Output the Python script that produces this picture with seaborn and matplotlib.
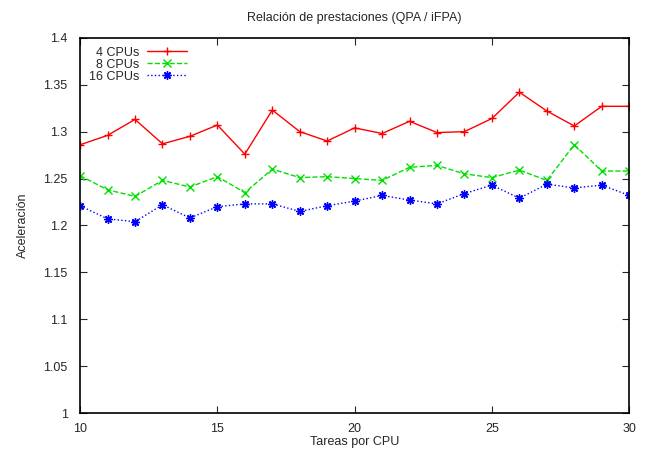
import matplotlib
matplotlib.use("Agg")
import matplotlib.pyplot as plt
from matplotlib.ticker import FuncFormatter
import seaborn as sns
import pandas as pd

tareas = list(range(10, 31))
cpu4 = [1.286, 1.296, 1.313, 1.287, 1.295, 1.307, 1.276, 1.323, 1.300, 1.290, 1.304,
        1.298, 1.311, 1.299, 1.300, 1.314, 1.342, 1.322, 1.306, 1.327, 1.327]
cpu8 = [1.253, 1.238, 1.231, 1.248, 1.241, 1.252, 1.235, 1.260, 1.251, 1.252, 1.250,
        1.248, 1.262, 1.264, 1.255, 1.251, 1.259, 1.248, 1.286, 1.258, 1.258]
cpu16 = [1.221, 1.207, 1.204, 1.222, 1.208, 1.220, 1.223, 1.223, 1.215, 1.221, 1.226,
         1.232, 1.227, 1.223, 1.234, 1.243, 1.229, 1.244, 1.240, 1.243, 1.232]
etiquetas = ["4 CPUs", "8 CPUs", "16 CPUs"]
colores = ["#ff0000", "#00e000", "#0000ff"]

sns.set_style("ticks")
plt.rcParams["font.family"] = ["Liberation Sans", "DejaVu Sans"]
plt.rcParams["xtick.direction"] = "in"
plt.rcParams["ytick.direction"] = "in"

fig = plt.figure(figsize=(6.46, 4.5), dpi=100)
ax = fig.add_axes([0.124, 0.082, 0.850, 0.834])

series = [cpu4, cpu8, cpu16]
markers = ["+", "x", (8, 2, 0)]
estilos = ["-", "--", ":"]
for vals, lab, col, mk, ls in zip(series, etiquetas, colores, markers, estilos):
    df = pd.DataFrame({"Tareas": tareas, "Acel": vals})
    sns.lineplot(data=df, x="Tareas", y="Acel", ax=ax, color=col, marker=mk,
                 linestyle=ls, linewidth=1, markersize=6, markeredgewidth=1,
                 markeredgecolor=col, label=lab)

ax.set_xlim(10, 30)
ax.set_ylim(1, 1.4)
ax.set_xticks(range(10, 31, 5))
ax.set_yticks([1 + 0.05 * i for i in range(9)])
ax.yaxis.set_major_formatter(FuncFormatter(lambda v, p: "%g" % round(v, 2)))
ax.tick_params(top=True, right=True, labelsize=9, length=5, width=0.8)
ax.tick_params(axis="x", pad=7)
ax.tick_params(axis="y", pad=9)
for s in ax.spines.values():
    s.set_linewidth(1.2)
    s.set_color("black")

ax.set_xlabel("Tareas por CPU", fontsize=9, labelpad=1)
ax.set_ylabel("Aceleración", fontsize=9, labelpad=10)
ax.set_title("Relación de prestaciones (QPA / iFPA)", fontsize=9, pad=12)

ax.legend(loc="upper left", bbox_to_anchor=(0.0, 1.0), frameon=False,
          markerfirst=False, fontsize=9, handlelength=3.2, labelspacing=0.0,
          borderaxespad=0.3, handletextpad=0.6)

fig.savefig("out.png", dpi=100)
